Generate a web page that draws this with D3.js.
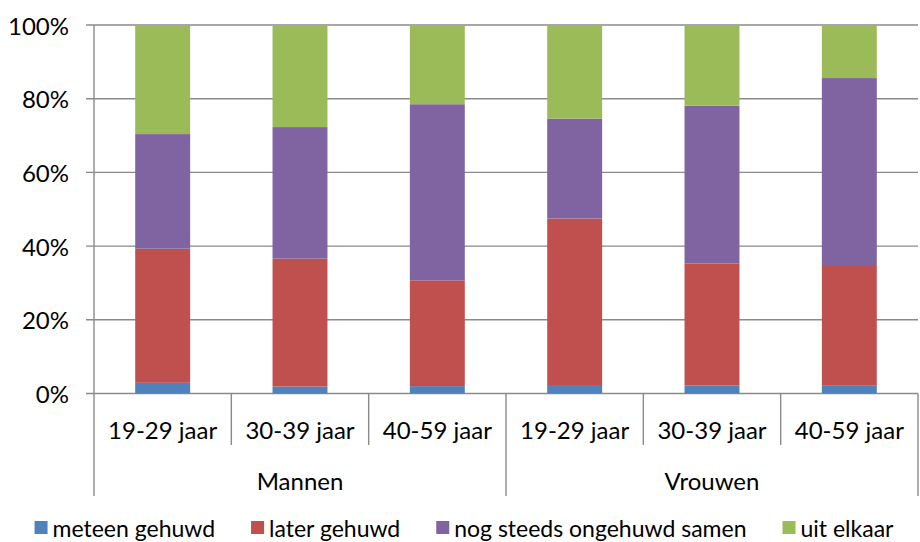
<!DOCTYPE html>
<html>
<head>
<meta charset="utf-8">
<script src="https://cdn.jsdelivr.net/npm/d3@7"></script>
<style>
  body { margin: 0; background: #fff; }
  text { font-family: Lato, "Open Sans", sans-serif; fill: #000; }
</style>
</head>
<body>
<div id="container"></div>
<script>
let width = 920;
let height = 542;

// data (percent)
let groups = ["Mannen", "Vrouwen"];
let ages = ["19-29 jaar", "30-39 jaar", "40-59 jaar"];
let seriesNames = ["meteen gehuwd", "later gehuwd", "nog steeds ongehuwd samen", "uit elkaar"];
let meteenGehuwd = [2.9, 1.9, 2.0, 2.3, 2.2, 2.1];
let laterGehuwd = [36.4, 34.7, 28.7, 45.2, 33.1, 32.5];
let nogSamen = [31.1, 35.7, 47.8, 27.1, 42.8, 51.0];
let uitElkaar = [29.6, 27.7, 21.5, 25.4, 21.9, 14.4];
let colors = ["#4F81BD", "#C0504D", "#8064A2", "#9BBB59"];
let yTicks = [0, 20, 40, 60, 80, 100];

let seriesValues = [meteenGehuwd, laterGehuwd, nogSamen, uitElkaar];

let rows = [];
groups.forEach(function (g, gi) {
  ages.forEach(function (a, ai) {
    let i = gi * ages.length + ai;
    let row = { key: g + "|" + a, group: g, age: a };
    seriesNames.forEach(function (s, si) { row[s] = seriesValues[si][i]; });
    rows.push(row);
  });
});

let plotLeft = 94, plotRight = 918, plotTop = 25, plotBottom = 393.5;

let svg = d3.select("#container")
  .append("svg")
  .attr("width", width)
  .attr("height", height);

let x = d3.scaleBand()
  .domain(rows.map(function (d) { return d.key; }))
  .range([plotLeft, plotRight])
  .paddingInner(0.6)
  .paddingOuter(0.3);

let y = d3.scaleLinear()
  .domain([0, 100])
  .range([plotBottom, plotTop]);

// gridlines + left ticks
svg.append("g")
  .selectAll("line")
  .data(yTicks)
  .enter().append("line")
  .attr("x1", plotLeft - 8)
  .attr("x2", plotRight)
  .attr("y1", function (d) { return y(d); })
  .attr("y2", function (d) { return y(d); })
  .attr("stroke", "#8a8a8a")
  .attr("stroke-width", 1.4);

svg.append("g")
  .selectAll("text")
  .data(yTicks)
  .enter().append("text")
  .attr("x", 69)
  .attr("y", function (d) { return y(d); })
  .attr("text-anchor", "end")
  .attr("dominant-baseline", "central")
  .style("font-size", "24px")
  .text(function (d) { return d + "%"; });

// stacked bars
let stack = d3.stack().keys(seriesNames);
let stacked = stack(rows);

svg.append("g")
  .selectAll("g")
  .data(stacked)
  .enter().append("g")
  .attr("fill", function (d, i) { return colors[i]; })
  .selectAll("rect")
  .data(function (d) { return d; })
  .enter().append("rect")
  .attr("x", function (d) { return x(d.data.key); })
  .attr("width", x.bandwidth())
  .attr("y", function (d) { return y(d[1]); })
  .attr("height", function (d) { return y(d[0]) - y(d[1]); });

// y axis line
svg.append("line")
  .attr("x1", plotLeft).attr("x2", plotLeft)
  .attr("y1", plotTop).attr("y2", plotBottom)
  .attr("stroke", "#8a8a8a")
  .attr("stroke-width", 1.4);

// category axis dividers
let step = x.step();
let dividers = d3.range(rows.length + 1).map(function (i) {
  return { x: plotLeft + i * step, long: i % ages.length === 0 };
});
svg.append("g")
  .selectAll("line")
  .data(dividers)
  .enter().append("line")
  .attr("x1", function (d) { return d.x; })
  .attr("x2", function (d) { return d.x; })
  .attr("y1", plotBottom)
  .attr("y2", function (d) { return d.long ? 496 : 445; })
  .attr("stroke", "#8a8a8a")
  .attr("stroke-width", 1.4);

svg.append("g")
  .selectAll("text")
  .data(rows)
  .enter().append("text")
  .attr("x", function (d) { return x(d.key) + x.bandwidth() / 2; })
  .attr("y", 429)
  .attr("text-anchor", "middle")
  .attr("dominant-baseline", "central")
  .style("font-size", "24px")
  .text(function (d) { return d.age; });

svg.append("g")
  .selectAll("text")
  .data(groups)
  .enter().append("text")
  .attr("x", function (d, i) { return plotLeft + (i * ages.length + ages.length / 2) * step; })
  .attr("y", 480)
  .attr("text-anchor", "middle")
  .attr("dominant-baseline", "central")
  .style("font-size", "24px")
  .text(function (d) { return d; });

// legend, laid out in a row and centred
let legend = svg.append("g");
let items = legend.selectAll("g")
  .data(seriesNames)
  .enter().append("g");
items.append("rect")
  .attr("width", 13).attr("height", 13)
  .attr("y", 521)
  .attr("fill", function (d, i) { return colors[i]; });
items.append("text")
  .attr("x", 18)
  .attr("y", 528)
  .attr("dominant-baseline", "central")
  .style("font-size", "23px")
  .text(function (d) { return d; });

let pos = 0;
let gap = 36;
let offsets = [];
items.each(function () {
  offsets.push(pos);
  let w = 18 + d3.select(this).select("text").node().getComputedTextLength();
  pos += w + gap;
});
let total = pos - gap;
let start = 464 - total / 2;
items.attr("transform", function (d, i) { return "translate(" + (start + offsets[i]) + ",0)"; });
</script>
</body>
</html>
